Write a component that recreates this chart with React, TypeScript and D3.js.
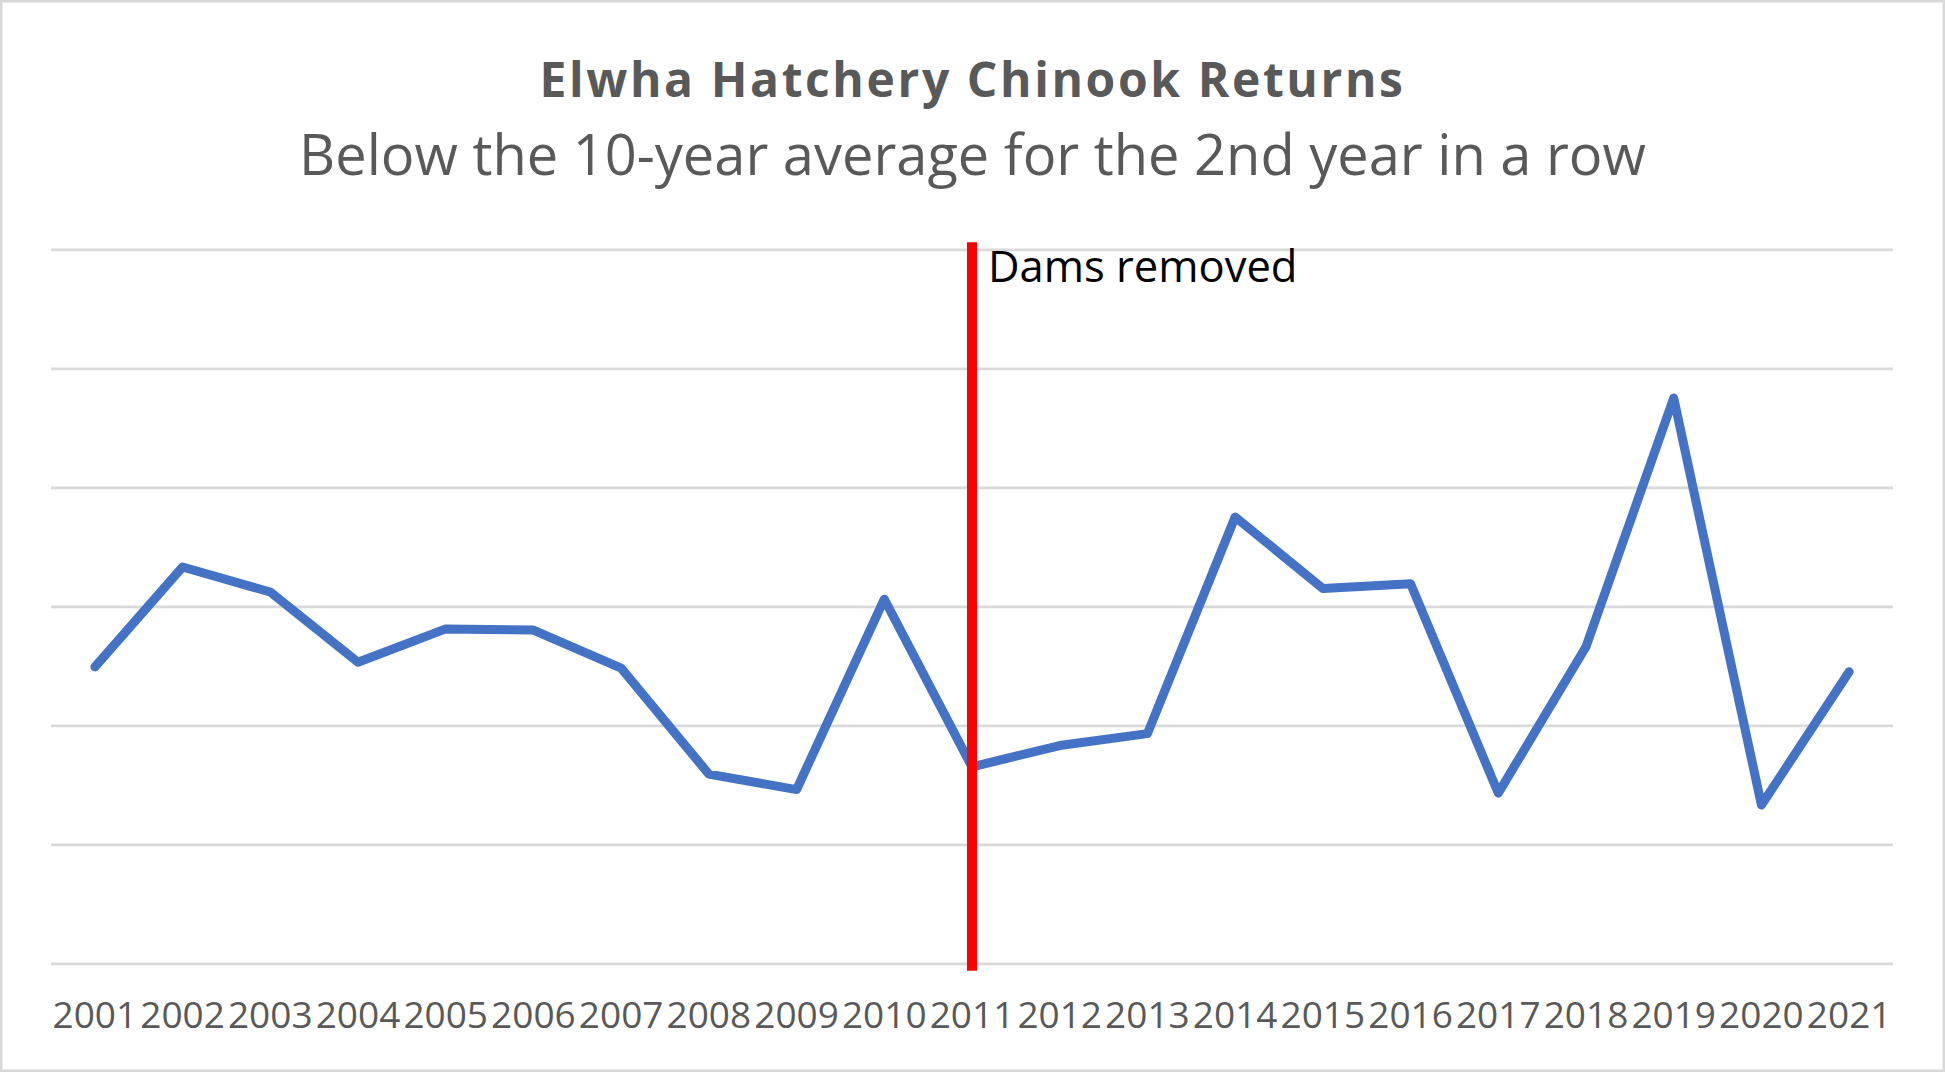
import React, { useEffect, useRef } from 'react';
import * as d3 from 'd3';

// Chart values
const years = [
  '2001', '2002', '2003', '2004', '2005', '2006', '2007', '2008', '2009', '2010', '2011',
  '2012', '2013', '2014', '2015', '2016', '2017', '2018', '2019', '2020', '2021'
];
const returns = [
  2490, 3330, 3120, 2530, 2810, 2800, 2480, 1590, 1460, 3060, 1650,
  1830, 1930, 3750, 3150, 3190, 1430, 2660, 4750, 1330, 2450
];
const yTicks = [0, 1000, 2000, 3000, 4000, 5000, 6000];
const damsRemovedYear = '2011';
const damsLabel = 'Dams removed';
const title = 'Elwha Hatchery Chinook Returns';
const subtitle = 'Below the 10-year average for the 2nd year in a row';

const WIDTH = 1945;
const HEIGHT = 1072;
const FONT = '"Open Sans", "Noto Sans", sans-serif';

const App: React.FC = () => {
  const svgRef = useRef<SVGSVGElement>(null);

  useEffect(() => {
    if (!svgRef.current) return;
    const svg = d3.select(svgRef.current);
    svg.selectAll('*').remove();

    // background + light frame
    svg.append('rect')
      .attr('x', 1.25)
      .attr('y', 1.25)
      .attr('width', WIDTH - 2.5)
      .attr('height', HEIGHT - 2.5)
      .attr('fill', 'white')
      .attr('stroke', '#d9d9d9')
      .attr('stroke-width', 2.5);

    const left = 51;
    const right = 1893;
    const top = 249.3;
    const bottom = 963.3;

    const xScale = d3.scaleBand<string>()
      .domain(years)
      .range([left, right])
      .padding(0);
    const xc = (y: string) => (xScale(y) ?? 0) + xScale.bandwidth() / 2;

    const yScale = d3.scaleLinear()
      .domain([0, 6000])
      .range([bottom, top]);

    // titles
    svg.append('text')
      .attr('x', WIDTH / 2)
      .attr('y', 97)
      .attr('text-anchor', 'middle')
      .attr('font-family', FONT)
      .attr('font-weight', 700)
      .attr('font-size', 48)
      .attr('letter-spacing', 2.6)
      .attr('fill', '#595959')
      .text(title);

    svg.append('text')
      .attr('x', WIDTH / 2)
      .attr('y', 175)
      .attr('text-anchor', 'middle')
      .attr('font-family', FONT)
      .attr('font-size', 56)
      .attr('fill', '#595959')
      .text(subtitle);

    // horizontal gridlines
    svg.append('g')
      .attr('transform', `translate(${left},0)`)
      .call(d3.axisLeft(yScale)
        .tickValues(yTicks)
        .tickSize(-(right - left))
        .tickFormat(() => ''))
      .call(g => g.select('.domain').remove())
      .call(g => g.selectAll('line')
        .attr('stroke', '#d9d9d9')
        .attr('stroke-width', 2.8));

    // category labels
    svg.append('g')
      .selectAll('text')
      .data(years)
      .join('text')
      .attr('x', d => xc(d))
      .attr('y', 1028)
      .attr('text-anchor', 'middle')
      .attr('font-family', FONT)
      .attr('font-size', 37)
      .attr('fill', '#595959')
      .text(d => d);

    // returns line
    const line = d3.line<number>()
      .x((_, i) => xc(years[i]))
      .y(d => yScale(d))
      .curve(d3.curveLinear);

    svg.append('path')
      .datum(returns)
      .attr('fill', 'none')
      .attr('stroke', '#4472c4')
      .attr('stroke-width', 9)
      .attr('stroke-linejoin', 'round')
      .attr('stroke-linecap', 'round')
      .attr('d', line);

    // dams removed marker
    const dx = xc(damsRemovedYear);
    svg.append('line')
      .attr('x1', dx)
      .attr('x2', dx)
      .attr('y1', yScale(6000) - 7)
      .attr('y2', yScale(0) + 7.5)
      .attr('stroke', '#ff0000')
      .attr('stroke-width', 10);

    svg.append('text')
      .attr('x', dx + 16)
      .attr('y', 281.5)
      .attr('font-family', FONT)
      .attr('font-size', 43.5)
      .attr('fill', '#000')
      .text(damsLabel);
  }, []);

  return (
    <svg
      ref={svgRef}
      width={WIDTH}
      height={HEIGHT}
      style={{ position: 'absolute', top: 0, left: 0, display: 'block' }}
    />
  );
};

export default App;
